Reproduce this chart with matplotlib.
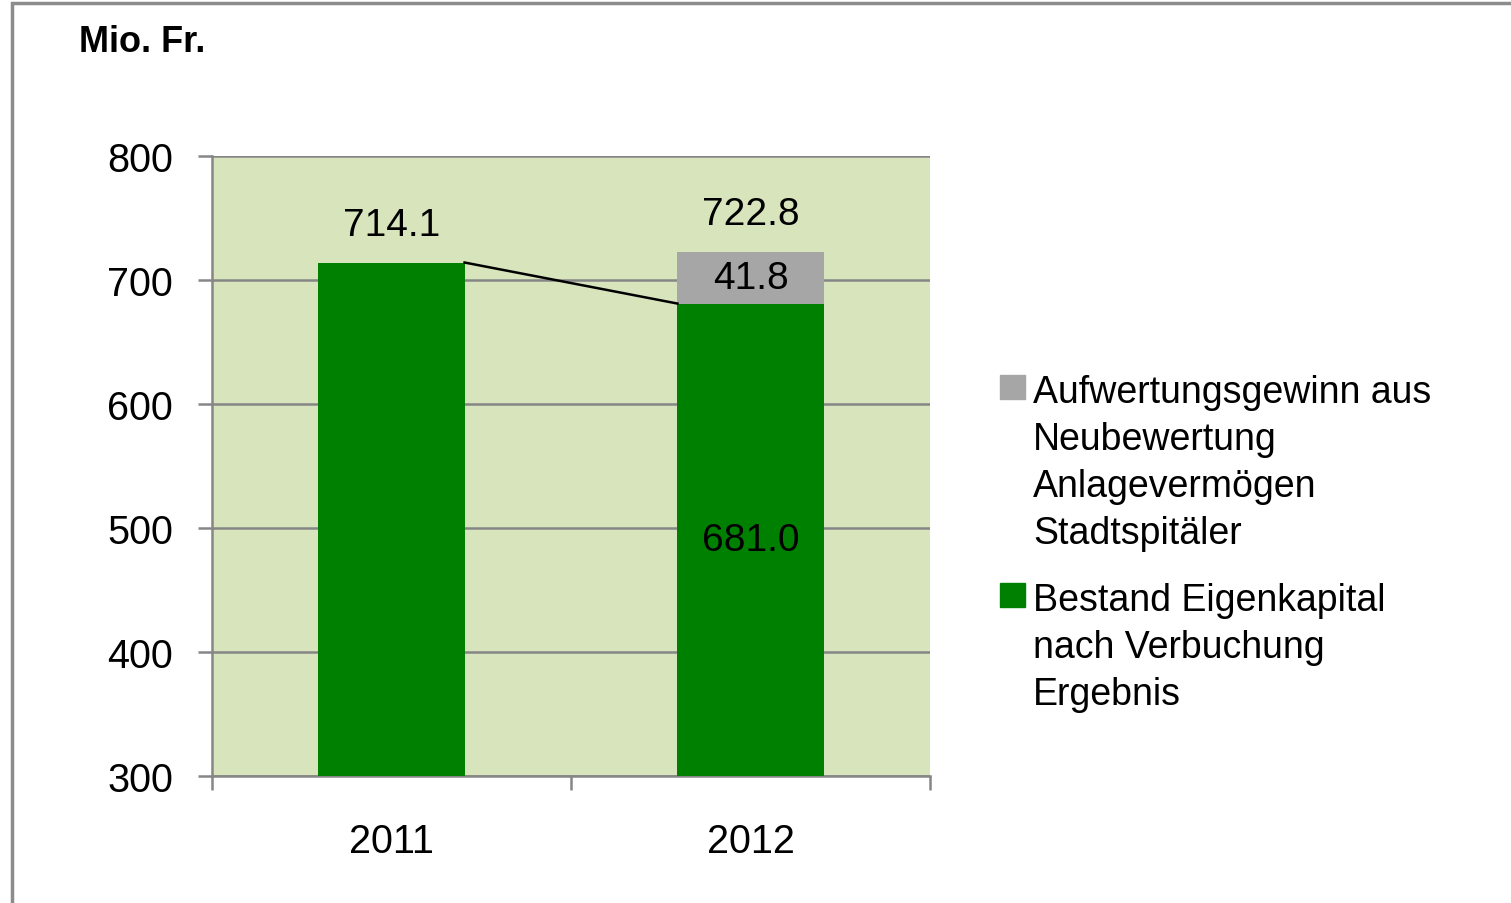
import matplotlib.pyplot as plt
from matplotlib.patches import Rectangle

plt.rcParams['font.family'] = ['Liberation Sans', 'DejaVu Sans']

# data
years = ['2011', '2012']
bestand = [714.1, 681.0]
aufwertung = [0.0, 41.8]
totals = [714.1, 722.8]
legend_labels = ['Aufwertungsgewinn aus\nNeubewertung\nAnlagevermögen\nStadtspitäler',
                 'Bestand Eigenkapital\nnach Verbuchung\nErgebnis']

green = '#008000'
grey = '#A6A6A6'
bg = '#D8E4BC'
gridc = '#868686'

W, H = 1511, 904
fig = plt.figure(figsize=(W/100, H/100), dpi=100)
ax = fig.add_axes([212/W, 1-777/H, 718/W, 620/H])
ax.set_facecolor(bg)

x = [0, 1]
w = 0.407
ax.bar(x, bestand, width=w, color=green, zorder=3)
ax.bar(x, aufwertung, width=w, bottom=bestand, color=grey, zorder=3)

# series line between bars
ax.plot([x[0] + w/2, x[1] - w/2], [bestand[0], bestand[1]], color='black', lw=1.8, zorder=4)

ax.set_ylim(300, 800)
ax.set_xlim(-0.5, 1.5)
ax.set_yticks(range(300, 801, 100))
ax.yaxis.grid(True, color=gridc, lw=1.8, zorder=1)
ax.tick_params(axis='y', length=10, width=1.8, color=gridc, labelsize=28.5, pad=18)
ax.set_xticks(x)
ax.set_xticklabels(years, fontsize=28.5)
ax.tick_params(axis='x', length=0, pad=33)
ax.set_xticks([-0.5, 0.5, 1.5], minor=True)
ax.tick_params(axis='x', which='minor', length=10, width=1.8, color=gridc)
for s in ['left', 'bottom']:
    ax.spines[s].set_color(gridc)
    ax.spines[s].set_linewidth(1.8)
for s in ['top', 'right']:
    ax.spines[s].set_visible(False)

# data labels
for i in range(2):
    ax.text(x[i], totals[i] + 16, f'{totals[i]:.1f}', ha='center', va='bottom', fontsize=28)
ax.text(x[1], bestand[1] + aufwertung[1]/2, f'{aufwertung[1]:.1f}', ha='center', va='center', fontsize=28)
ax.text(x[1], (300 + bestand[1])/2, f'{bestand[1]:.1f}', ha='center', va='center', fontsize=28)

fig.text(79/W, 1-42/H, 'Mio. Fr.', fontsize=26, fontweight='bold', va='center')

# legend, drawn by hand so the squares sit at the first text line
leg_colors = [grey, green]
leg_top = [376, 584]
for c, t, lab in zip(leg_colors, leg_top, legend_labels):
    fig.add_artist(Rectangle((1000/W, 1-(t+24)/H), 25/W, 24/H, transform=fig.transFigure,
                             color=c))
    for k, line in enumerate(lab.split('\n')):
        fig.text(1033/W, 1-(t+27+47*k)/H, line, fontsize=27, va='baseline', ha='left')

# outer border
fig.add_artist(Rectangle((12/W, -0.1), 1.2, 1-4/H + 0.1, transform=fig.transFigure,
                         fill=False, edgecolor='#8C8C8C', lw=2.5))

fig.savefig('out.png', dpi=100)
